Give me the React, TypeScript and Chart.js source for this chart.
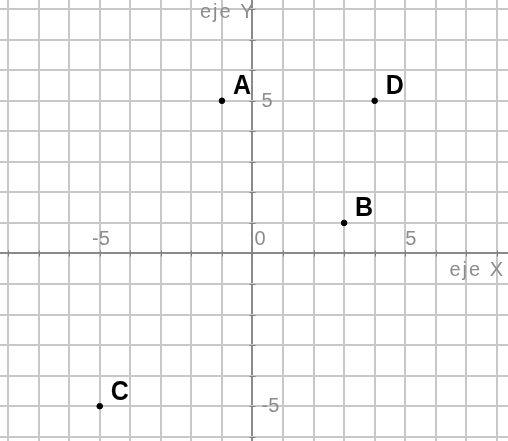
import React, { useEffect, useRef } from "react";
import { Chart, registerables } from "chart.js";

Chart.register(...registerables);

const pointNames = ["A", "B", "C", "D"];
const pointX = [-1, 3, -5, 4];
const pointY = [5, 1, -5, 5];

const xRange = [-8.265, 8.365];
const yRange = [-6.14, 8.3];
const gridValuesX = [-8, -7, -6, -5, -4, -3, -2, -1, 0, 1, 2, 3, 4, 5, 6, 7, 8];
const gridValuesY = [-6, -5, -4, -3, -2, -1, 0, 1, 2, 3, 4, 5, 6, 7, 8];
const xTickLabels = [-5, 0, 5];
const yTickLabels = [5, -5];
const xAxisTitle = "eje X";
const yAxisTitle = "eje Y";

const labelsPlugin = {
  id: "geoLabels",
  afterDatasetsDraw(chart: any) {
    const ctx = chart.ctx;
    const xs = chart.scales.x;
    const ys = chart.scales.y;
    const ox = xs.getPixelForValue(0);
    const oy = ys.getPixelForValue(0);
    ctx.save();
    // small tick marks on axes
    ctx.strokeStyle = "#808080";
    ctx.lineWidth = 1;
    for (const v of gridValuesX) {
      const p = Math.round(xs.getPixelForValue(v)) + 0.5;
      ctx.beginPath();
      ctx.moveTo(p, oy - 3);
      ctx.lineTo(p, oy + 3);
      ctx.stroke();
    }
    for (const v of gridValuesY) {
      const p = Math.round(ys.getPixelForValue(v)) + 0.5;
      ctx.beginPath();
      ctx.moveTo(ox - 3, p);
      ctx.lineTo(ox + 3, p);
      ctx.stroke();
    }
    ctx.fillStyle = "#8c8c8c";
    ctx.font = "20px 'Liberation Sans', Arial, sans-serif";
    ctx.textBaseline = "alphabetic";
    ctx.textAlign = "left";
    for (const v of xTickLabels) {
      const p = xs.getPixelForValue(v);
      const t = String(v);
      const shift = v < 0 ? ctx.measureText("-").width + 1 : 0;
      ctx.fillText(t, p + (v === 0 ? 2 : 0) - shift, oy - 8);
    }
    for (const v of yTickLabels) {
      const p = ys.getPixelForValue(v);
      ctx.fillText(String(v), ox + 9, p + 6);
    }
    ctx.textAlign = "right";
    (ctx as any).letterSpacing = "2px";
    ctx.fillText(xAxisTitle, chart.width - 3, oy + 22.5);
    ctx.fillText(yAxisTitle, ox + 3, 18);
    (ctx as any).letterSpacing = "0px";
    // point labels
    ctx.fillStyle = "#000";
    ctx.font = "bold 25px 'Liberation Sans', Arial, sans-serif";
    ctx.textAlign = "left";
    pointNames.forEach((n, i) => {
      const px = xs.getPixelForValue(pointX[i]);
      const py = ys.getPixelForValue(pointY[i]);
      ctx.save();
      ctx.translate(px + 11, py - 6.5);
      ctx.scale(1, 1.12);
      ctx.fillText(n, 0, 0);
      ctx.restore();
    });
    ctx.restore();
  },
};

export default function App() {
  const ref = useRef<HTMLCanvasElement>(null);
  useEffect(() => {
    const gridColor = (c: any) =>
      c.tick && c.tick.value === 0 ? "#8a8a8a" : "#c8c8c8";
    const chart = new Chart(ref.current!, {
      type: "scatter",
      data: {
        datasets: [
          {
            data: pointX.map((x, i) => ({ x, y: pointY[i] })),
            backgroundColor: "#000",
            borderColor: "#000",
            pointRadius: 2.8,
            pointHoverRadius: 2.8,
          },
        ],
      },
      options: {
        animation: false,
        responsive: false,
        maintainAspectRatio: false,
        events: [],
        layout: { padding: 0, autoPadding: false },
        plugins: { legend: { display: false }, tooltip: { enabled: false } },
        scales: {
          x: {
            type: "linear",
            min: xRange[0],
            max: xRange[1],
            afterBuildTicks: (axis: any) => {
              axis.ticks = gridValuesX.map((v) => ({ value: v }));
            },
            ticks: { display: false },
            grid: { color: gridColor, lineWidth: 2, drawTicks: false },
            border: { display: false },
          },
          y: {
            type: "linear",
            min: yRange[0],
            max: yRange[1],
            afterBuildTicks: (axis: any) => {
              axis.ticks = gridValuesY.map((v) => ({ value: v }));
            },
            ticks: { display: false },
            grid: { color: gridColor, lineWidth: 2, drawTicks: false },
            border: { display: false },
          },
        },
      },
      plugins: [labelsPlugin],
    } as any);
    return () => chart.destroy();
  }, []);
  return (
    <div style={{ position: "absolute", left: 0, top: 0, width: 508, height: 441, background: "#fff" }}>
      <canvas ref={ref} width={508} height={441} style={{ display: "block" }} />
    </div>
  );
}
